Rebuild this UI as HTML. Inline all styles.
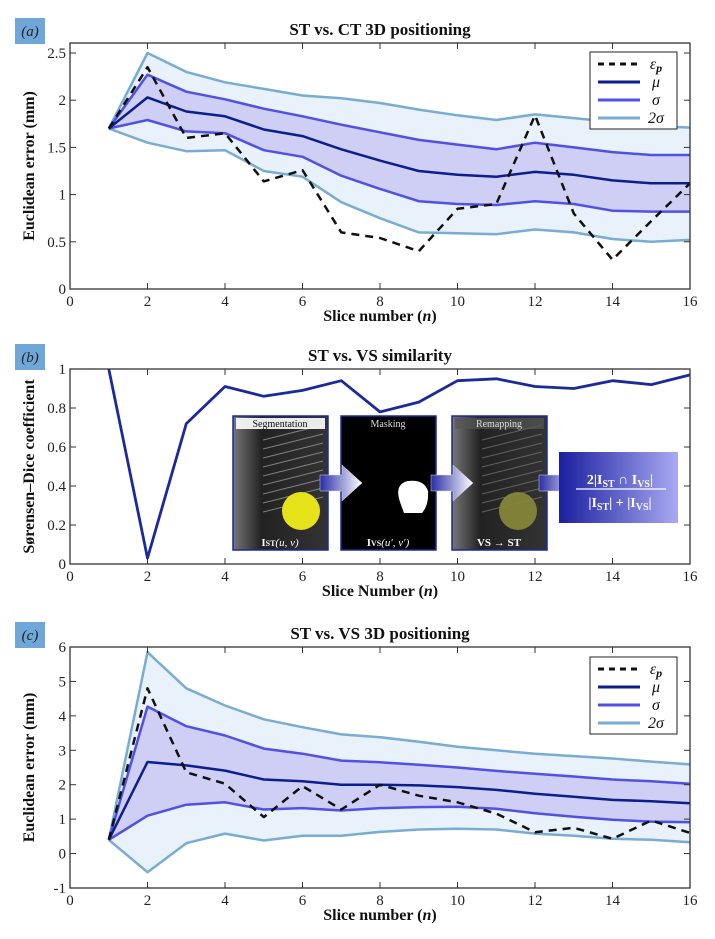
<!DOCTYPE html>
<html><head><meta charset="utf-8"><style>
html,body{margin:0;padding:0;background:#fff;}
svg{display:block;font-family:"Liberation Serif",serif;}
</style></head><body>
<svg id="fig" width="715" height="939" viewBox="0 0 715 939" xmlns="http://www.w3.org/2000/svg">
<defs>
<linearGradient id="arrowGrad" x1="0" x2="1" y1="0" y2="0"><stop offset="0" stop-color="#2a2ea8"/><stop offset="1" stop-color="#ffffff"/></linearGradient>
<linearGradient id="formGrad" x1="0" x2="1" y1="0" y2="0"><stop offset="0" stop-color="#1a1fa0"/><stop offset="1" stop-color="#a9a9f2"/></linearGradient>
<linearGradient id="usGrad" x1="0" x2="1" y1="0" y2="0"><stop offset="0" stop-color="#777"/><stop offset="0.3" stop-color="#222"/><stop offset="1" stop-color="#333"/></linearGradient>
</defs>
</svg>
<script>
const slices = [1,2,3,4,5,6,7,8,9,10,11,12,13,14,15,16];
// Panel (a): ST vs CT
const aEps = [1.7,2.35,1.6,1.65,1.14,1.26,0.6,0.54,0.4,0.85,0.9,1.84,0.8,0.31,0.72,1.12];
const aMu  = [1.7,2.03,1.88,1.83,1.69,1.62,1.48,1.36,1.25,1.21,1.19,1.24,1.21,1.15,1.12,1.12];
const aSU  = [1.7,2.27,2.09,2.01,1.91,1.83,1.74,1.66,1.58,1.53,1.48,1.55,1.5,1.45,1.42,1.42];
const aSL  = [1.7,1.79,1.67,1.65,1.47,1.4,1.2,1.06,0.93,0.9,0.89,0.93,0.9,0.83,0.82,0.82];
const a2SU = [1.7,2.5,2.3,2.19,2.12,2.05,2.02,1.97,1.9,1.84,1.79,1.85,1.81,1.77,1.73,1.71];
const a2SL = [1.7,1.55,1.46,1.47,1.25,1.19,0.92,0.75,0.6,0.59,0.58,0.63,0.6,0.53,0.5,0.52];
const aYTicks = [0,0.5,1,1.5,2,2.5];
const aYLabels = ["0","0.5","1","1.5","2","2.5"];
// Panel (b): Dice
const bDice = [1.0,0.03,0.72,0.91,0.86,0.89,0.94,0.78,0.83,0.94,0.95,0.91,0.90,0.94,0.92,0.97];
const bYTicks = [0,0.2,0.4,0.6,0.8,1];
const bYLabels = ["0","0.2","0.4","0.6","0.8","1"];
// Panel (c): ST vs VS
const cEps = [0.4,4.8,2.36,2.03,1.06,1.96,1.28,2.0,1.68,1.49,1.16,0.62,0.75,0.43,0.96,0.6];
const cMu  = [0.4,2.66,2.56,2.41,2.15,2.1,2.0,2.0,1.98,1.93,1.85,1.74,1.65,1.56,1.52,1.46];
const cSU  = [0.4,4.27,3.7,3.43,3.05,2.9,2.7,2.65,2.58,2.5,2.4,2.32,2.24,2.15,2.1,2.03];
const cSL  = [0.4,1.1,1.42,1.49,1.28,1.32,1.25,1.32,1.35,1.36,1.3,1.17,1.07,0.98,0.93,0.91];
const c2SU = [0.4,5.85,4.8,4.3,3.9,3.67,3.46,3.38,3.25,3.1,3.0,2.9,2.83,2.76,2.67,2.59];
const c2SL = [0.4,-0.54,0.3,0.58,0.38,0.52,0.52,0.63,0.7,0.72,0.7,0.58,0.52,0.43,0.4,0.33];
const cYTicks = [-1,0,1,2,3,4,5,6];
const cYLabels = ["-1","0","1","2","3","4","5","6"];
const xTicks = [0,2,4,6,8,10,12,14,16];
const xLabels = ["0","2","4","6","8","10","12","14","16"];

const NS="http://www.w3.org/2000/svg";
const svg=document.getElementById('fig');
function mk(tag,attrs,parent,text){const e=document.createElementNS(NS,tag);for(const k in attrs)e.setAttribute(k,attrs[k]);if(text!==undefined)e.textContent=text;(parent||svg).appendChild(e);return e;}

function panel(o){
  const g=mk('g',{});
  
  
  const L=70,R=690,T=o.top,B=o.bottom;
  const sx=v=>L+(v-0)/16*(R-L);
  const sy=v=>B-(v-o.ymin)/(o.ymax-o.ymin)*(B-T);
  o.sx=sx;o.sy=sy;o.g=g;
  // title
  const t=mk('text',{x:380,y:T-8,'text-anchor':'middle','font-size':'17','font-weight':'bold',fill:'#111'},g,o.title);
  
  
  // badge
  const bg=mk('g',{},g);
  
  
  mk('rect',{x:15,y:T-25,width:30,height:26,fill:'#6fa8d8'},bg);
  mk('text',{x:30,y:T-7,'text-anchor':'middle','font-size':'15','font-style':'italic',fill:'#222'},bg,o.badge);
  return g;
}
function axes(o){
  const g=o.g,L=70,R=690,T=o.top,B=o.bottom;
  const ax=mk('g',{},g);
  
  
  mk('rect',{x:L,y:T,width:R-L,height:B-T,fill:'none',stroke:'#333','stroke-width':1.3},ax);
  xTicks.forEach((v,i)=>{
    const x=o.sx(v);
    mk('line',{x1:x,x2:x,y1:B,y2:B-6,stroke:'#333'},ax);
    mk('line',{x1:x,x2:x,y1:T,y2:T+6,stroke:'#333'},ax);
    const tl=mk('text',{x:x,y:B+17,'text-anchor':'middle','font-size':'15',fill:'#222'},ax,xLabels[i]);
    
    
  });
  o.yt.forEach((v,i)=>{
    const y=o.sy(v);
    mk('line',{x1:L,x2:L+6,y1:y,y2:y,stroke:'#333'},ax);
    mk('line',{x1:R,x2:R-6,y1:y,y2:y,stroke:'#333'},ax);
    const tl=mk('text',{x:L-4,y:y+5,'text-anchor':'end','font-size':'15',fill:'#222'},ax,o.yl[i]);
    
    
  });
  const xl=mk('text',{x:380,y:B+32,'text-anchor':'middle','font-size':'16','font-weight':'bold',fill:'#111'},ax);
  
  
  xl.innerHTML=o.xlabel+' (<tspan font-style="italic">n</tspan>)';
  const yc=(T+B)/2;
  const yl=mk('text',{x:0,y:0,transform:`translate(34,${yc}) rotate(-90)`,'text-anchor':'middle','font-size':'16','font-weight':'bold',fill:'#111'},ax,o.ylabel);
  
  
}
function pts(o,arr){return slices.map((s,i)=>o.sx(s).toFixed(1)+','+o.sy(arr[i]).toFixed(1));}
function band(o,up,lo,fill,name){
  const p=pts(o,up).concat(pts(o,lo).reverse());
  const e=mk('polygon',{points:p.join(' '),fill:fill,stroke:'none'},o.g);
  
  
}
function line(o,arr,color,w,name,dash){
  const a={points:pts(o,arr).join(' '),fill:'none',stroke:color,'stroke-width':w,'stroke-linejoin':'round'};
  if(dash)a['stroke-dasharray']=dash;
  const e=mk('polyline',a,o.g);
  
  
}
function legend(o,x,y){
  const g=mk('g',{},o.g);
  
  
  mk('rect',{x:x,y:y,width:87,height:77,fill:'#fff',stroke:'#222','stroke-width':1},g);
  const items=[['εp','#111','6,5','legend-entry-eps'],['μ','#0a1e8c',null,'legend-entry-mu'],['σ','#5050e6',null,'legend-entry-sigma'],['2σ','#78acd2',null,'legend-entry-2sigma']];
  items.forEach((it,i)=>{
    const yy=y+12+i*18;
    const eg=mk('g',{},g);
    
    
    const a={x1:x+8,x2:x+50,y1:yy,y2:yy,stroke:it[1],'stroke-width':3};
    if(it[2])a['stroke-dasharray']=it[2];
    mk('line',a,eg);
    const t=mk('text',{x:x+66,y:yy+5,'text-anchor':'middle','font-size':'16','font-style':'italic',fill:'#111'},eg);
    if(i===0){t.innerHTML='ε<tspan font-size="12" dy="3" font-weight="bold">p</tspan>';}else t.textContent=it[0];
  });
}
function bandPanel(o,d){
  panel(o);
  band(o,d.u2,d.l2,'#e9f2fa','two-sigma-band');
  band(o,d.u1,d.l1,'#cfcff6','sigma-band');
  line(o,d.u2,'#78acd2',2.5,'two-sigma-upper-line');
  line(o,d.l2,'#78acd2',2.5,'two-sigma-lower-line');
  line(o,d.u1,'#5050e6',2.5,'sigma-upper-line');
  line(o,d.l1,'#5050e6',2.5,'sigma-lower-line');
  line(o,d.mu,'#0a1e8c',2.5,'mean-line');
  line(o,d.eps,'#111',2.5,'eps-p-line','8,6');
  axes(o);
  legend(o,590,d.ly);
}
const pa={name:'panel-a',top:43,bottom:289,ymin:0,ymax:2.606,yt:aYTicks,yl:aYLabels,title:'ST vs. CT 3D positioning',badge:'(a)',xlabel:'Slice number',ylabel:'Euclidean error (mm)'};
bandPanel(pa,{u2:a2SU,l2:a2SL,u1:aSU,l1:aSL,mu:aMu,eps:aEps,ly:52});

const pb={name:'panel-b',top:369,bottom:564,ymin:0,ymax:1,yt:bYTicks,yl:bYLabels,title:'ST vs. VS similarity',badge:'(b)',xlabel:'Slice Number',ylabel:'Sørensen–Dice coefficient'};
panel(pb);
// clip line to axes
mk('clipPath',{id:'clipB'},pb.g).appendChild(Object.assign(document.createElementNS(NS,'rect'),{}));
pb.g.lastChild.firstChild.setAttribute('x',70);pb.g.lastChild.firstChild.setAttribute('y',369);pb.g.lastChild.firstChild.setAttribute('width',620);pb.g.lastChild.firstChild.setAttribute('height',195);
const dl=mk('polyline',{points:pts(pb,bDice).join(' '),fill:'none',stroke:'#1a2a9c','stroke-width':2.8,'stroke-linejoin':'round','clip-path':'url(#clipB)'},pb.g);


axes(pb);
// inset
(function(){
  const g=mk('g',{},pb.g);
  
  
  const panels=[[233,'Segmentation','#fff','#111'],[341,'Masking','#000','#ddd'],[452,'Remapping','#555','#ddd']];
  panels.forEach((p,i)=>{
    const pg=mk('g',{},g);
    
    
    mk('rect',{x:p[0],y:416,width:95,height:134,fill:i===1?'#000':'url(#usGrad)',stroke:'#1a2a9c','stroke-width':1.5},pg);
    if(i!==1){
      for(let k=0;k<9;k++)mk('line',{x1:p[0]+30,y1:440+k*9,x2:p[0]+90,y2:425+k*9,stroke:i===0?'#bbb':'#888','stroke-width':1,opacity:0.6},pg);
      mk('rect',{x:p[0]+3,y:418,width:89,height:11,fill:p[2],opacity:i===0?0.9:0.7},pg);
    }
    mk('text',{x:p[0]+47,y:427,'text-anchor':'middle','font-size':'10',fill:p[3]},pg,p[1]);
  });
  mk('circle',{cx:301,cy:511,r:19,fill:'#e6e21a'},g);
  mk('path',{d:'M400 502 q-6 -18 8 -21 q16 -2 20 10 q1 14 -6 22 l-18 0 z',fill:'#fff'},g);
  mk('circle',{cx:518,cy:511,r:19,fill:'#8a8a3a',opacity:0.9},g);
  mk('text',{x:280,y:546,'text-anchor':'middle','font-size':'11','font-weight':'bold',fill:'#fff'},g).innerHTML='I<tspan font-size="8">ST</tspan><tspan font-weight="normal" font-style="italic">(u, v)</tspan>';
  mk('text',{x:388,y:546,'text-anchor':'middle','font-size':'11','font-weight':'bold',fill:'#fff'},g).innerHTML='I<tspan font-size="8">VS</tspan><tspan font-weight="normal" font-style="italic">(u′, v′)</tspan>';
  mk('text',{x:499,y:546,'text-anchor':'middle','font-size':'11','font-weight':'bold',fill:'#fff'},g,'VS → ST');
  [[320],[431],[539]].forEach(a=>{
    const x=a[0];
    const ar=mk('polygon',{points:`${x},475 ${x+22},475 ${x+22},465 ${x+42},483 ${x+22},501 ${x+22},491 ${x},491`,fill:'url(#arrowGrad)',stroke:'#ddd','stroke-width':0.5},g);
    
    
  });
  const fb=mk('g',{},g);
  
  
  mk('rect',{x:559,y:452,width:119,height:71,fill:'url(#formGrad)'},fb);
  mk('text',{x:620,y:484,'text-anchor':'middle','font-size':'14','font-weight':'bold',fill:'#fff'},fb).innerHTML='2|I<tspan font-size="10" dy="3">ST</tspan><tspan dy="-3"> ∩ I</tspan><tspan font-size="10" dy="3">VS</tspan><tspan dy="-3">|</tspan>';
  mk('line',{x1:576,x2:666,y1:489,y2:489,stroke:'#fff','stroke-width':1.2},fb);
  mk('text',{x:620,y:507,'text-anchor':'middle','font-size':'14','font-weight':'bold',fill:'#fff'},fb).innerHTML='|I<tspan font-size="10" dy="3">ST</tspan><tspan dy="-3">| + |I</tspan><tspan font-size="10" dy="3">VS</tspan><tspan dy="-3">|</tspan>';
})();

const pc={name:'panel-c',top:647,bottom:888,ymin:-1,ymax:6,yt:cYTicks,yl:cYLabels,title:'ST vs. VS 3D positioning',badge:'(c)',xlabel:'Slice number',ylabel:'Euclidean error (mm)'};
bandPanel(pc,{u2:c2SU,l2:c2SL,u1:cSU,l1:cSL,mu:cMu,eps:cEps,ly:657});
</script>
</body></html>
